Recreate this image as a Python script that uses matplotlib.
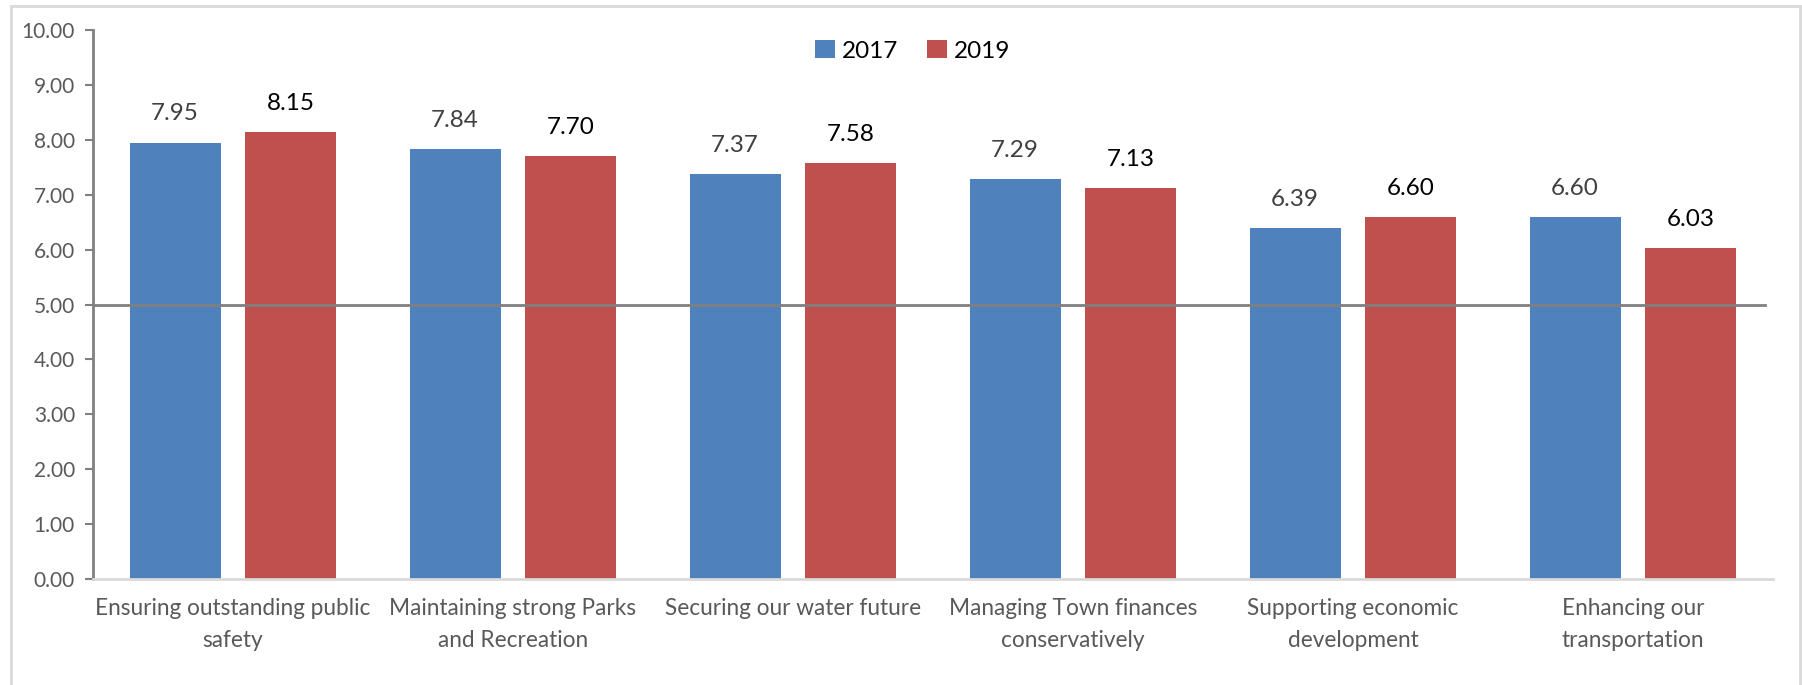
import matplotlib
matplotlib.use("Agg")
import matplotlib.pyplot as plt
import numpy as np
from matplotlib.lines import Line2D

plt.rcParams['font.family'] = ['Lato', 'DejaVu Sans']

# chart data
categories = ["Ensuring outstanding public\nsafety",
              "Maintaining strong Parks\nand Recreation",
              "Securing our water future",
              "Managing Town finances\nconservatively",
              "Supporting economic\ndevelopment",
              "Enhancing our\ntransportation"]
scores_2017 = [7.95, 7.84, 7.37, 7.29, 6.39, 6.60]
scores_2019 = [8.15, 7.70, 7.58, 7.13, 6.60, 6.03]
series_names = ["2017", "2019"]
ref_value = 5.0
y_ticks = [0, 1, 2, 3, 4, 5, 6, 7, 8, 9, 10]

blue = "#4F81BD"
red = "#C0504D"

fig = plt.figure(figsize=(18.02, 6.85), dpi=100)
ax = fig.add_axes([0.0516, 0.1547, 0.9323, 0.8015])

x = np.arange(len(categories))
w = 0.325
off = 0.207
ax.bar(x - off, scores_2017, w, color=blue, label=series_names[0], zorder=2)
ax.bar(x + off, scores_2019, w, color=red, label=series_names[1], zorder=2)

# reference line at 5
ax.plot([-0.5, 5.47], [ref_value, ref_value], color="#808080", lw=2, zorder=3)

# value labels
for xi, v in zip(x - off, scores_2017):
    ax.annotate(f"{v:.2f}", (xi, v), xytext=(0, 13), textcoords="offset points",
                ha="center", va="bottom", fontsize=17.5, color="#404040")
for xi, v in zip(x + off, scores_2019):
    ax.annotate(f"{v:.2f}", (xi, v), xytext=(0, 13), textcoords="offset points",
                ha="center", va="bottom", fontsize=17.5, color="black")

ax.set_xlim(-0.5, 5.5)
ax.set_ylim(0, 10)
ax.set_yticks(y_ticks)
ax.set_yticklabels([f"{t:.2f}" for t in y_ticks])
ax.set_xticks(x)
ax.set_xticklabels(categories, linespacing=1.6)

ax.tick_params(axis="y", labelsize=15, colors="#595959", length=6, width=1.5, direction="out", pad=7)
ax.tick_params(axis="y", color="#808080")
ax.tick_params(axis="x", labelsize=16.3, colors="#595959", length=0, pad=14)

for s in ["top", "right"]:
    ax.spines[s].set_visible(False)
ax.spines["left"].set_color("#808080")
ax.spines["left"].set_linewidth(2)
ax.spines["bottom"].set_color("#D9D9D9")
ax.spines["bottom"].set_linewidth(2)

ax.legend(loc="upper center", bbox_to_anchor=(0.488, 1.022), ncol=2, frameon=False,
          fontsize=17.5, handlelength=0.8, handleheight=0.8, handletextpad=0.3,
          columnspacing=1.2)

# outer chart border
border = "#D9D9D9"
fig.add_artist(Line2D([11 / 1802, 11 / 1802], [0, 1 - 6 / 685], color=border, lw=2))
fig.add_artist(Line2D([11 / 1802, 1800 / 1802], [1 - 6 / 685, 1 - 6 / 685], color=border, lw=2))
fig.add_artist(Line2D([1800 / 1802, 1800 / 1802], [0, 1 - 6 / 685], color=border, lw=2))

fig.savefig("out.png", dpi=100)
